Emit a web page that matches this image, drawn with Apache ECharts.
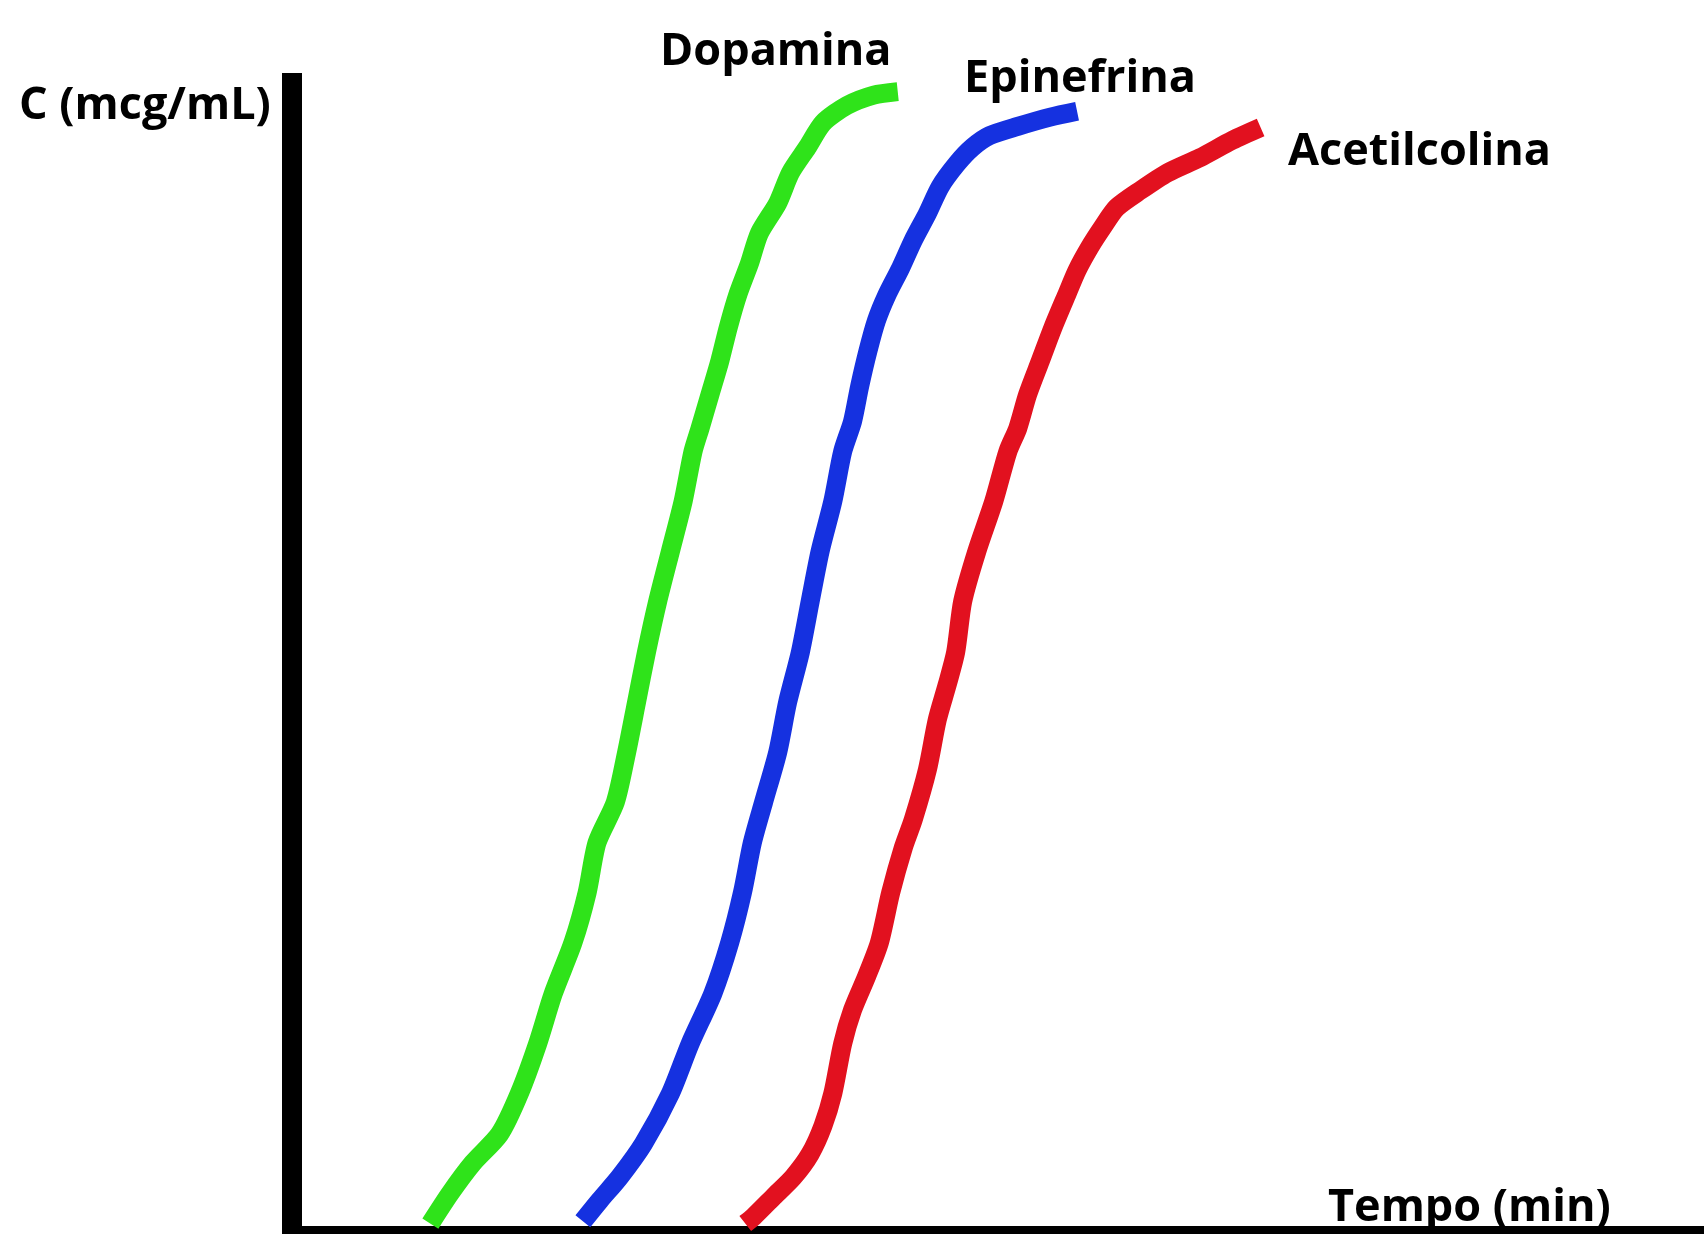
<!DOCTYPE html>
<html>
<head>
<meta charset="utf-8">
<script src="https://cdn.jsdelivr.net/npm/echarts@6/dist/echarts.min.js"></script>
<style>
html,body{margin:0;padding:0;background:#fff;}
#chart{width:1704px;height:1234px;}
</style>
</head>
<body>
<div id="chart"></div>
<script>
// ---- Data (arbitrary units: time 0-100, concentration 0-100) ----
const seriesNames = ["Dopamina", "Epinefrina", "Acetilcolina"];
const axisTitles = ["C (mcg/mL)", "Tempo (min)"];

const dopaminaTime = [9.8, 11.2, 12.8, 14.7, 16.1, 17.4, 18.5, 19.9, 20.9, 21.6, 22.9, 23.7, 24.4, 25.1, 25.9, 26.8, 27.7, 28.4, 28.9, 29.6, 30.3, 30.9, 31.6, 32.4, 33.1, 34.4, 35.3, 36.5, 37.6, 39.3, 41.2, 42.9];
const dopaminaConc = [0.9, 3.5, 6.1, 8.6, 12.1, 16.4, 20.7, 25.1, 29.4, 33.7, 37.2, 41.5, 45.8, 50.1, 54.5, 58.8, 63.1, 67.4, 69.4, 72.3, 75.2, 78.1, 81.0, 83.6, 86.2, 88.8, 91.4, 93.6, 95.7, 97.2, 98.1, 98.4];

const epinefrinaTime = [20.6, 21.8, 23.2, 24.9, 26.8, 28.2, 29.8, 31.0, 31.9, 32.6, 33.4, 34.4, 35.1, 36.0, 36.7, 37.4, 38.3, 39.0, 39.7, 40.2, 40.8, 41.4, 42.1, 43.1, 44.0, 45.0, 45.9, 47.1, 48.2, 49.4, 51.4, 53.7, 55.6];
const epinefrinaConc = [1.1, 2.9, 4.9, 7.8, 12.1, 16.4, 20.7, 25.1, 29.4, 33.7, 37.2, 41.5, 45.8, 50.1, 54.5, 58.8, 63.1, 67.4, 70.0, 73.0, 76.1, 78.7, 80.8, 83.2, 85.6, 87.9, 90.2, 92.2, 93.6, 94.6, 95.4, 96.2, 96.7];

const acetilcolinaTime = [32.1, 32.7, 34.1, 35.5, 36.7, 37.6, 38.3, 39.0, 39.7, 40.7, 41.6, 42.4, 43.3, 44.0, 45.0, 45.7, 46.4, 47.0, 47.5, 48.5, 49.7, 50.7, 51.4, 52.1, 53.0, 53.9, 54.9, 55.6, 56.5, 57.4, 58.4, 60.1, 62.0, 64.3, 66.6, 68.6];
const acetilcolinaConc = [0.9, 1.5, 3.2, 4.9, 6.9, 9.3, 12.1, 16.4, 19.3, 22.2, 25.1, 29.4, 33.3, 35.7, 40.0, 44.3, 47.3, 50.1, 54.5, 58.8, 63.1, 67.4, 69.4, 72.3, 75.2, 78.1, 81.0, 83.0, 85.0, 86.7, 88.4, 89.9, 91.4, 92.7, 94.2, 95.3];

const colors = ["#2fe31a", "#1531e0", "#e2111f"];

function pairs(xs, ys) { return xs.map((x, i) => [x, ys[i]]); }

const chart = echarts.init(document.getElementById('chart'), null, {renderer: 'canvas'});
const font = 'bold 45px "Open Sans"';

const lineSeries = [
  pairs(dopaminaTime, dopaminaConc),
  pairs(epinefrinaTime, epinefrinaConc),
  pairs(acetilcolinaTime, acetilcolinaConc)
].map((d, i) => ({
  name: seriesNames[i],
  type: 'line',
  data: d,
  smooth: 0.25,
  showSymbol: false,
  symbol: 'none',
  animation: false,
  lineStyle: {color: colors[i], width: 19, cap: 'butt', join: 'round'},
  itemStyle: {color: colors[i]}
}));

chart.setOption({
  backgroundColor: '#ffffff',
  animation: false,
  grid: {left: 292, top: 73, right: 0, bottom: 0, containLabel: false},
  xAxis: {
    type: 'value', min: 0, max: 100,
    axisLine: {show: true, onZero: false, lineStyle: {color: '#000', width: 16, cap: 'butt'}},
    axisTick: {show: false}, axisLabel: {show: false}, splitLine: {show: false}
  },
  yAxis: {
    type: 'value', min: 0, max: 100,
    axisLine: {show: true, onZero: false, lineStyle: {color: '#000', width: 20, cap: 'butt'}},
    axisTick: {show: false}, axisLabel: {show: false}, splitLine: {show: false}
  },
  series: lineSeries,
  graphic: [
    {type: 'text', left: 19, top: 84, style: {text: axisTitles[0], font: font, fill: '#000'}},
    {type: 'text', left: 1328, top: 1186, style: {text: axisTitles[1], font: font, fill: '#000'}},
    {type: 'text', left: 660, top: 30, style: {text: seriesNames[0], font: font, fill: '#000'}},
    {type: 'text', left: 964, top: 57, style: {text: seriesNames[1], font: font, fill: '#000'}},
    {type: 'text', left: 1288, top: 130, style: {text: seriesNames[2], font: font, fill: '#000'}}
  ]
});
</script>
</body>
</html>
